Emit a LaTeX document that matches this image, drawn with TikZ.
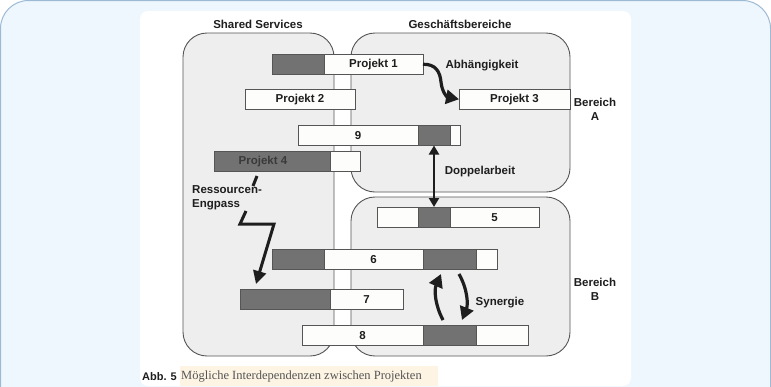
\documentclass[tikz,border=0pt]{standalone}
\usepackage{fontspec}
\setmainfont{Liberation Sans}
\newfontfamily\serifcap{Liberation Serif}
\usetikzlibrary{arrows.meta}

\definecolor{bgblue}{HTML}{EFF7FE}
\definecolor{bgborder}{HTML}{9DBAD4}
\definecolor{boxfill}{HTML}{EEEEEE}
\definecolor{boxline}{HTML}{555555}
\definecolor{darkseg}{HTML}{727272}
\definecolor{lightseg}{HTML}{FDFDFB}
\definecolor{capbg}{HTML}{FDF4E4}
\definecolor{captext}{HTML}{555555}
\definecolor{ink}{HTML}{1E1E1E}
\definecolor{dimink}{HTML}{3A3A3A}

\begin{document}
\begin{tikzpicture}[x=1pt,y=-1pt,
  area/.style={draw=boxline, fill=boxfill, line width=0.9pt, rounded corners=24pt},
  seg/.style={draw=boxline, line width=0.8pt, minimum height=20.5pt, inner sep=0pt, outer sep=0pt, anchor=north west, font=\bfseries\fontsize{11.5}{13}\selectfont, text=ink},
  dseg/.style={seg, fill=darkseg},
  lseg/.style={seg, fill=lightseg},
  lbl/.style={font=\bfseries\fontsize{11.5}{14}\selectfont, text=ink, inner sep=0pt, align=center},
  thickarrow/.style={draw=ink, line width=3.2pt, -{Triangle[length=13pt,width=14pt]}},
  lightning/.style={draw=ink, line width=3pt, line join=miter},
]
\useasboundingbox (0,0) rectangle (771,386);
\clip (0,0) rectangle (771,386);

% backgrounds
\draw[fill=bgblue, draw=bgborder, line width=1pt, rounded corners=28pt] (0.5,0.5) rectangle (770.5,430);
\fill[white, rounded corners=8pt] (140,11) rectangle (631,386);

% areas
\draw[area] (183,33) rectangle (334,356);
\draw[area] (351,33) rectangle (570,192);
\draw[area] (351,197) rectangle (570,356);

% headings
\node[lbl] (hss) at (258,24) {Shared Services};
\node[lbl] (hgb) at (460,24) {Geschäftsbereiche};
\node[lbl] (ba) at (595,109) {Bereich\\A};
\node[lbl] (bb) at (595,289) {Bereich\\B};

% bars
\node[dseg, minimum width=52pt] (p1d) at (272,54) {};
\node[lseg, minimum width=99pt] (p1l) at (324,54) {Projekt 1};

\node[lseg, minimum width=110pt] (p2) at (245,89) {Projekt 2};

\node[lseg, minimum width=111pt] (p3) at (459,89) {Projekt 3};

\node[lseg, minimum width=120pt] (n9l) at (298,125) {9};
\node[dseg, minimum width=32pt] (n9d) at (418,125) {};
\node[lseg, minimum width=10pt] (n9e) at (450,125) {};

\node[dseg, minimum width=116pt, text=dimink] (p4d) at (214,151) {Projekt 4\hspace*{18pt}};
\node[lseg, minimum width=30pt] (p4l) at (330,151) {};

\node[lseg, minimum width=41pt] (n5a) at (377,207) {};
\node[dseg, minimum width=32pt] (n5d) at (418,207) {};
\node[lseg, minimum width=89pt] (n5l) at (450,207) {5};

\node[dseg, minimum width=52pt] (n6a) at (272,249) {};
\node[lseg, minimum width=99pt] (n6l) at (324,249) {6};
\node[dseg, minimum width=53pt] (n6d) at (423,249) {};
\node[lseg, minimum width=21pt] (n6e) at (476,249) {};

\node[dseg, minimum width=90pt] (n7d) at (240,289) {};
\node[lseg, minimum width=73pt] (n7l) at (330,289) {7};

\node[lseg, minimum width=121pt] (n8l) at (302,325) {8};
\node[dseg, minimum width=53pt] (n8d) at (423,325) {};
\node[lseg, minimum width=52pt] (n8e) at (476,325) {};

% Abhaengigkeit
\node[lbl] (abh) at (482,66) {Abhängigkeit};
\draw[thickarrow] (p1l.east) .. controls (436,64) and (440,72) .. (441,82)
  .. controls (442,92) and (447,97) .. (p3.west);

% Doppelarbeit
\node[lbl] (dop) at (480,172) {Doppelarbeit};
\draw[draw=ink, line width=2.4pt, {Triangle[length=9pt,width=10pt]}-{Triangle[length=9pt,width=10pt]}] (n9d.south) -- (n5d.north);

% Ressourcen-Engpass
\node[lbl, anchor=west, align=left] (reng) at (192,198) {Ressourcen-\\Engpass};
\coordinate (l0) at (257,176);
\coordinate (l1) at (253,186);
\coordinate (l2) at (246,211);
\coordinate (l3) at (240,224);
\coordinate (l4) at (274,224);
\coordinate (l5) at (256,284);
\draw[lightning] (l0) -- (l1);
\draw[lightning, -{Triangle[length=13pt,width=13pt]}] (l2) -- (l3) -- (l4) -- (l5);

% Synergie
\node[lbl] (syn) at (500,303) {Synergie};
\coordinate (s1) at (443,320);
\coordinate (s2) at (441,274);
\coordinate (s3) at (459,274);
\coordinate (s4) at (462,320);
\draw[thickarrow] (s1) .. controls (435,305) and (434,290) .. (s2);
\draw[thickarrow] (s3) .. controls (468,290) and (468,305) .. (s4);

% caption
\fill[capbg] (180,366) rectangle (438,386);
\node[anchor=west, inner sep=0pt, font=\bfseries\fontsize{11}{13}\selectfont, text=ink] (abb) at (142,377) {Abb. 5};
\node[anchor=west, inner sep=0pt, font=\serifcap\fontsize{12.5}{14}\selectfont, text=captext] (cap) at (181,377) {Mögliche Interdependenzen zwischen Projekten};
\end{tikzpicture}
\end{document}
